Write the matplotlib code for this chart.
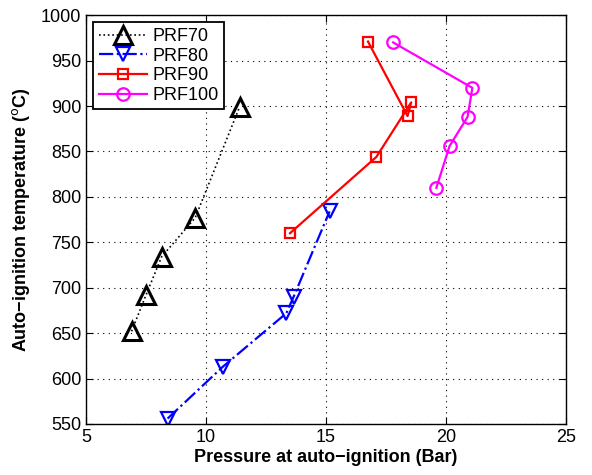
import matplotlib.pyplot as plt
import numpy as np

plt.rcParams['font.family'] = ['Liberation Sans', 'DejaVu Sans']

# data
prf70_p = [6.9, 7.5, 8.15, 9.55, 11.4]
prf70_t = [652, 692, 734, 777, 899]

prf80_p = [8.4, 10.7, 13.35, 13.65, 15.15]
prf80_t = [556, 613, 672, 690, 784]

prf90_p = [13.5, 17.1, 18.55, 18.4, 16.75]
prf90_t = [760, 844, 904, 889, 971]

prf100_p = [17.8, 21.1, 20.9, 20.15, 19.6]
prf100_t = [970, 920, 888, 856, 810]

fig = plt.figure(figsize=(5.92, 4.75), dpi=100)
ax = fig.add_axes([0.1453, 0.1074, 0.8107, 0.8606])

ax.plot(prf70_p, prf70_t, color='black', linestyle=':', linewidth=1.2,
        marker='^', markersize=13, markerfacecolor='none',
        markeredgewidth=2.2, label='PRF70')
ax.plot(prf80_p, prf80_t, color='blue', linestyle='-.', linewidth=1.6,
        marker='v', markersize=10, markerfacecolor='none',
        markeredgewidth=1.6, label='PRF80')
ax.plot(prf90_p, prf90_t, color='red', linestyle='-', linewidth=1.6,
        marker='s', markersize=7, markerfacecolor='none',
        markeredgewidth=1.6, label='PRF90')
ax.plot(prf100_p, prf100_t, color='magenta', linestyle='-', linewidth=1.6,
        marker='o', markersize=9, markerfacecolor='none',
        markeredgewidth=1.6, label='PRF100')

ax.set_xlim(5, 25)
ax.set_ylim(550, 1000)
ax.set_xticks(np.arange(5, 26, 5))
ax.set_yticks(np.arange(550, 1001, 50))
ax.tick_params(direction='in', labelsize=13, top=True, right=True, length=5)
ax.grid(True, linestyle=(0, (1, 4)), color='black', linewidth=0.8)
for s in ax.spines.values():
    s.set_linewidth(1.0)

ax.set_xlabel('Pressure at auto\u2212ignition (Bar)', fontsize=13, fontweight='bold', labelpad=2)
ax.set_ylabel('Auto\u2212ignition temperature ($^{\\mathrm{o}}$C)', fontsize=13, fontweight='bold', labelpad=6)

leg = ax.legend(loc='upper left', fontsize=13, fancybox=False, framealpha=1,
                edgecolor='black', borderaxespad=0.4, handlelength=2.7,
                labelspacing=0.15, borderpad=0.3, handletextpad=0.3)
leg.get_frame().set_linewidth(1.3)

fig.savefig('out.png', dpi=100)
